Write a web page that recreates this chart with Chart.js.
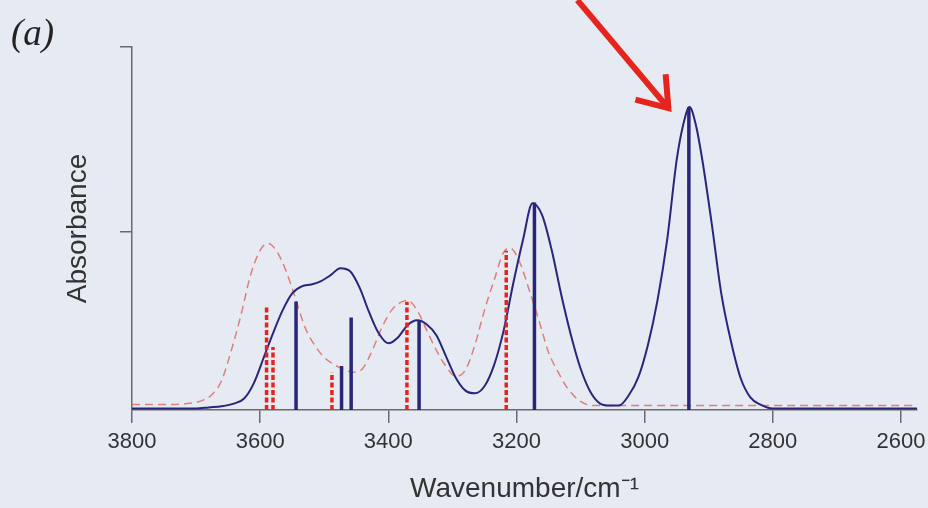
<!DOCTYPE html>
<html>
<head>
<meta charset="utf-8">
<script src="https://cdn.jsdelivr.net/npm/chart.js@4.4.1/dist/chart.umd.min.js"></script>
<style>
  html, body { margin: 0; padding: 0; background: #e6eaf2; }
  canvas { display: block; }
</style>
</head>
<body>
<canvas id="spectrum" width="928" height="508"></canvas>
<script>
//Data

var xTicks = [3800, 3600, 3400, 3200, 3000, 2800, 2600];
var yTicks = [0.5, 1.0];
var yBase = 0.02;

// solid curve
var solidWn = [3800, 3750, 3700, 3680, 3660, 3640, 3625, 3610, 3595, 3580, 3565, 3550, 3535, 3520, 3505,
    3490, 3475, 3460, 3445, 3430, 3415, 3400, 3385, 3370, 3355, 3340, 3325, 3310, 3295, 3280, 3265,
    3250, 3235, 3220, 3205, 3190, 3175, 3160, 3145, 3130, 3115, 3100, 3085, 3070, 3055, 3040, 3025,
    3010, 2995, 2980, 2965, 2950, 2940, 2930, 2920, 2910, 2895, 2880, 2865, 2850, 2835, 2820, 2800,
    2700, 2575];
var solidAbs = [0.024, 0.024, 0.024, 0.027, 0.030, 0.038, 0.051, 0.092, 0.159, 0.227, 0.289, 0.335, 0.354, 0.359, 0.368,
    0.384, 0.403, 0.395, 0.351, 0.284, 0.227, 0.200, 0.216, 0.249, 0.262, 0.251, 0.222, 0.165, 0.108, 0.073, 0.065,
    0.084, 0.141, 0.235, 0.362, 0.478, 0.578, 0.546, 0.451, 0.330, 0.222, 0.132, 0.070, 0.038, 0.032, 0.032, 0.059,
    0.108, 0.195, 0.316, 0.478, 0.695, 0.789, 0.838, 0.789, 0.695, 0.519, 0.330, 0.203, 0.105, 0.054, 0.035, 0.024,
    0.024, 0.024];

// dashed curve
var dashWn = [3800, 3750, 3710, 3690, 3675, 3660, 3645, 3630, 3615, 3600, 3588, 3575, 3560, 3545, 3530,
    3515, 3500, 3485, 3470, 3455, 3440, 3425, 3410, 3395, 3380, 3370, 3355, 3340, 3325, 3310, 3295,
    3280, 3265, 3250, 3235, 3220, 3210, 3195, 3180, 3165, 3150, 3135, 3120, 3100, 3080, 2900, 2700, 2575];
var dashAbs = [0.035, 0.035, 0.038, 0.046, 0.062, 0.100, 0.181, 0.276, 0.384, 0.451, 0.470, 0.451, 0.397, 0.322, 0.243,
    0.195, 0.162, 0.143, 0.130, 0.122, 0.132, 0.181, 0.243, 0.289, 0.311, 0.316, 0.289, 0.235, 0.181, 0.138, 0.111,
    0.127, 0.195, 0.289, 0.370, 0.446, 0.457, 0.419, 0.343, 0.262, 0.176, 0.122, 0.078, 0.043, 0.032, 0.032, 0.032, 0.032];

// sticks
var solidStickWn = [3544, 3473, 3458, 3352, 3172, 2931];
var solidStickAbs = [0.313, 0.139, 0.270, 0.262, 0.580, 0.838];
var dashStickWn = [3590, 3580, 3488, 3371, 3216];
var dashStickAbs = [0.297, 0.190, 0.122, 0.312, 0.450];

var navy = "#29267a";
var red = "#e5251d";
var axisColor = "#6a6a6a";
var textColor = "#333333";
var sans = "'Liberation Sans', Arial, sans-serif";

function curve(wn, abs) {
    return wn.map(function (w, i) {
        return { x: w, y: abs[i] };
    });
}

function sticks(wn, abs) {
    var pts = [];
    wn.forEach(function (w, i) {
        pts.push({ x: w, y: yBase }, { x: w, y: abs[i] }, { x: w, y: null });
    });
    return pts;
}

//Decorations: background, panel label, arrow

var decor = {
    id: "decor",
    beforeDraw: function (chart) {
        var ctx = chart.ctx;
        ctx.save();
        ctx.fillStyle = "#e6eaf2";
        ctx.fillRect(0, 0, chart.width, chart.height);
        ctx.restore();
    },
    afterDraw: function (chart) {
        var ctx = chart.ctx;
        var xs = chart.scales.x, ys = chart.scales.y;
        ctx.save();
        ctx.fillStyle = "#222222";
        ctx.font = "italic 37px 'Liberation Serif', 'DejaVu Serif', serif";
        ctx.textBaseline = "alphabetic";
        ctx.fillText("(a)", 11, 45);

        // arrow pointing at the 2930 peak
        var tx = xs.getPixelForValue(2963), ty = ys.getPixelForValue(0.835);
        var sx = tx - 91, sy = ty - 108;
        var ang = Math.atan2(ty - sy, tx - sx);
        ctx.strokeStyle = red;
        ctx.lineWidth = 6;
        ctx.lineCap = "butt";
        ctx.beginPath();
        ctx.moveTo(sx, sy);
        ctx.lineTo(tx - 3 * Math.cos(ang), ty - 3 * Math.sin(ang));
        ctx.stroke();
        ctx.lineJoin = "miter";
        ctx.beginPath();
        var wing = 34, spread = 0.62;
        ctx.moveTo(tx + wing * Math.cos(ang + Math.PI - spread), ty + wing * Math.sin(ang + Math.PI - spread));
        ctx.lineTo(tx, ty);
        ctx.lineTo(tx + wing * Math.cos(ang + Math.PI + spread), ty + wing * Math.sin(ang + Math.PI + spread));
        ctx.stroke();
        ctx.restore();
    }
};

//Chart

var spectrum = new Chart(document.getElementById("spectrum"), {
    type: "line",
    data: {
        datasets: [
            {
                data: curve(dashWn, dashAbs),
                borderColor: "#e07f78",
                borderWidth: 1.5,
                borderDash: [8, 5],
                cubicInterpolationMode: "monotone",
                pointRadius: 0,
                order: 4
            },
            {
                data: curve(solidWn, solidAbs),
                borderColor: navy,
                borderWidth: 2,
                cubicInterpolationMode: "monotone",
                pointRadius: 0,
                order: 3
            },
            {
                data: sticks(dashStickWn, dashStickAbs),
                borderColor: red,
                borderWidth: 3.5,
                borderDash: [5, 2.5],
                borderCapStyle: "butt",
                spanGaps: false,
                tension: 0,
                pointRadius: 0,
                order: 2
            },
            {
                data: sticks(solidStickWn, solidStickAbs),
                borderColor: navy,
                borderWidth: 3.5,
                spanGaps: false,
                tension: 0,
                pointRadius: 0,
                order: 1
            }
        ]
    },
    options: {
        responsive: false,
        animation: false,
        events: [],
        layout: {
            padding: { top: 47, right: 11, left: 0, bottom: 0 }
        },
        plugins: {
            legend: { display: false },
            tooltip: { enabled: false }
        },
        scales: {
            x: {
                type: "linear",
                reverse: true,
                min: 2575,
                max: 3800,
                afterBuildTicks: function (axis) {
                    axis.ticks = xTicks.map(function (v) { return { value: v }; });
                },
                afterFit: function (axis) {
                    axis.height = 98;
                    axis.paddingRight = 0;
                },
                grid: {
                    drawOnChartArea: false,
                    tickLength: 13,
                    color: axisColor,
                    lineWidth: 1.5
                },
                border: { color: axisColor, width: 1.5 },
                ticks: {
                    autoSkip: false,
                    maxRotation: 0,
                    padding: 6,
                    color: textColor,
                    font: { family: sans, size: 22 },
                    callback: function (v) { return String(v); }
                },
                title: {
                    display: true,
                    text: "Wavenumber/cm\u207B\u00B9",
                    color: textColor,
                    font: { family: sans, size: 28 },
                    padding: { top: 0, bottom: 2 }
                }
            },
            y: {
                min: yBase,
                max: 1.0,
                afterBuildTicks: function (axis) {
                    axis.ticks = yTicks.map(function (v) { return { value: v }; });
                },
                afterFit: function (axis) {
                    axis.width = 132;
                },
                grid: {
                    drawOnChartArea: false,
                    tickLength: 12,
                    color: axisColor,
                    lineWidth: 1.5
                },
                border: { color: axisColor, width: 1.5 },
                ticks: {
                    callback: function () { return ""; }
                },
                title: {
                    display: true,
                    text: "Absorbance",
                    color: textColor,
                    font: { family: sans, size: 28 },
                    padding: { top: 61, bottom: 0 }
                }
            }
        }
    },
    plugins: [decor]
});
</script>
</body>
</html>
